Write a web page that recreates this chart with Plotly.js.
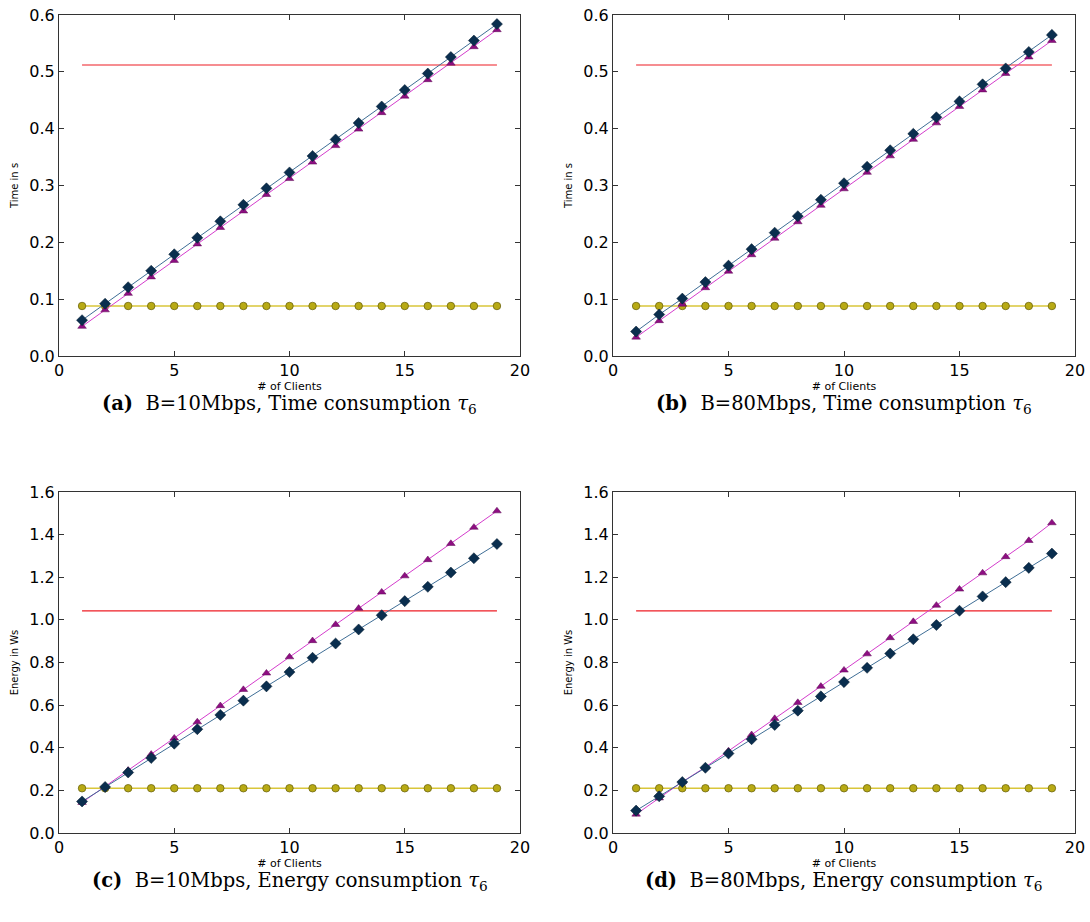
<!DOCTYPE html>
<html>
<head>
<meta charset="utf-8">
<script src="https://cdn.plot.ly/plotly-3.0.1.min.js"></script>
<style>html,body{margin:0;padding:0;background:#fff;}#chart{width:1090px;height:922px;}</style>
</head>
<body>
<div id="chart"></div>
<script>
// ---- data ----
const clients = [1,2,3,4,5,6,7,8,9,10,11,12,13,14,15,16,17,18,19];

// (a) B=10Mbps, time
const timeB10Blue   = [0.063,0.092,0.121,0.150,0.179,0.208,0.237,0.266,0.295,0.323,0.352,0.381,0.410,0.439,0.468,0.497,0.526,0.555,0.584];
const timeB10Purple = [0.052,0.081,0.110,0.139,0.168,0.197,0.226,0.255,0.284,0.312,0.341,0.370,0.399,0.428,0.457,0.486,0.515,0.544,0.574];
const timeB10Yellow = 0.088;
const timeB10Red    = 0.512;

// (b) B=80Mbps, time
const timeB80Blue   = [0.043,0.073,0.101,0.130,0.159,0.188,0.217,0.246,0.275,0.304,0.333,0.362,0.391,0.420,0.448,0.478,0.506,0.535,0.565];
const timeB80Purple = [0.033,0.062,0.091,0.120,0.149,0.178,0.207,0.236,0.265,0.294,0.323,0.352,0.381,0.410,0.439,0.468,0.497,0.526,0.555];
const timeB80Yellow = 0.088;
const timeB80Red    = 0.512;

// (c) B=10Mbps, energy
const energyB10Blue   = [0.148,0.216,0.284,0.352,0.419,0.487,0.554,0.621,0.688,0.755,0.822,0.889,0.955,1.022,1.088,1.155,1.222,1.289,1.356];
const energyB10Purple = [0.143,0.218,0.294,0.369,0.445,0.521,0.597,0.673,0.750,0.826,0.902,0.978,1.054,1.130,1.206,1.282,1.358,1.434,1.511];
const energyB10Yellow = 0.210;
const energyB10Red    = 1.042;

// (d) B=80Mbps, energy
const energyB80Blue   = [0.105,0.172,0.239,0.306,0.373,0.440,0.507,0.574,0.641,0.708,0.775,0.842,0.909,0.976,1.043,1.110,1.177,1.244,1.311];
const energyB80Purple = [0.088,0.164,0.240,0.309,0.385,0.461,0.537,0.612,0.688,0.764,0.840,0.916,0.992,1.068,1.144,1.220,1.296,1.372,1.455];
const energyB80Yellow = 0.210;
const energyB80Red    = 1.042;

const captions = [
  '<b>(a)</b>  B=10Mbps, Time consumption <i>τ</i><sub>6</sub>',
  '<b>(b)</b>  B=80Mbps, Time consumption <i>τ</i><sub>6</sub>',
  '<b>(c)</b>  B=10Mbps, Energy consumption <i>τ</i><sub>6</sub>',
  '<b>(d)</b>  B=80Mbps, Energy consumption <i>τ</i><sub>6</sub>'
];
const yTitles = ['Time in s','Time in s','Energy in Ws','Energy in Ws'];
const xTitle = '# of Clients';

// ---- build ----
const panels = [
  {blue: timeB10Blue, purple: timeB10Purple, yellow: timeB10Yellow, red: timeB10Red},
  {blue: timeB80Blue, purple: timeB80Purple, yellow: timeB80Yellow, red: timeB80Red},
  {blue: energyB10Blue, purple: energyB10Purple, yellow: energyB10Yellow, red: energyB10Red},
  {blue: energyB80Blue, purple: energyB80Purple, yellow: energyB80Yellow, red: energyB80Red}
];

const W = 1090, H = 922;
const xDom = [[59/W, 520/W],[613/W, 1075/W]];
const yDom = [[1-356/H, 1-15/H],[1-833/H, 1-492/H]];
const yRanges = [[0,0.6],[0,0.6],[0,1.6],[0,1.6]];
const yDtick = [0.1,0.1,0.2,0.2];

const traces = [];
const layout = {
  width: W, height: H,
  margin: {l:0,r:0,t:0,b:0},
  paper_bgcolor: '#fff', plot_bgcolor: '#fff',
  showlegend: false,
  font: {family: 'DejaVu Sans', color: '#000'},
  annotations: []
};

panels.forEach((p, i) => {
  const n = i + 1;
  const xa = 'x' + (n === 1 ? '' : n);
  const ya = 'y' + (n === 1 ? '' : n);
  traces.push({
    x: clients, y: clients.map(() => p.red), xaxis: xa, yaxis: ya,
    mode: 'lines', line: {color: '#ee1c24', width: 1.2}, hoverinfo: 'skip'
  });
  traces.push({
    x: clients, y: clients.map(() => p.yellow), xaxis: xa, yaxis: ya,
    mode: 'lines+markers', line: {color: '#d9c63a', width: 1.3},
    marker: {symbol: 'circle', size: 7.5, color: '#b8aa14', line: {color: '#6d6610', width: 0.8}}
  });
  traces.push({
    x: clients, y: p.purple, xaxis: xa, yaxis: ya,
    mode: 'lines+markers', line: {color: '#d43ccc', width: 1},
    marker: {symbol: 'triangle-up', size: 7.5, color: '#8e0e82', line: {color: '#5a0a52', width: 0.5}}
  });
  traces.push({
    x: clients, y: p.blue, xaxis: xa, yaxis: ya,
    mode: 'lines+markers', line: {color: '#3f6e96', width: 1},
    marker: {symbol: 'diamond', size: 8.5, color: '#0a2e4e', line: {color: '#041a2e', width: 0.5}}
  });

  const col = i % 2, row = Math.floor(i / 2);
  const axCommon = {
    showgrid: false, zeroline: false, showline: true, linecolor: '#333', linewidth: 1,
    mirror: 'ticks', ticks: 'inside', ticklen: 5, tickwidth: 1, tickcolor: '#333',
    tickfont: {family: 'DejaVu Sans', size: 16, color: '#000'}
  };
  layout['xaxis' + (n === 1 ? '' : n)] = Object.assign({}, axCommon, {
    domain: xDom[col], anchor: ya, range: [0, 20], dtick: 5, tick0: 0,
    title: {text: xTitle, font: {family: 'DejaVu Sans', size: 11, color: '#000'}, standoff: 2}
  });
  layout['yaxis' + (n === 1 ? '' : n)] = Object.assign({}, axCommon, {
    domain: yDom[row], anchor: xa, range: yRanges[i], dtick: yDtick[i], tick0: 0,
    tickformat: '.1f',
    title: {text: yTitles[i], font: {family: 'DejaVu Sans', size: 10, color: '#000'}, standoff: 8}
  });

  const cx = (xDom[col][0] + xDom[col][1]) / 2;
  layout.annotations.push({
    text: captions[i], xref: 'paper', yref: 'paper',
    x: cx, y: 1 - (row === 0 ? 405 : 881) / H, xanchor: 'center', yanchor: 'middle',
    showarrow: false, font: {family: 'DejaVu Serif', size: 19.5, color: '#000'}
  });
});

Plotly.newPlot('chart', traces, layout, {staticPlot: true});
</script>
</body>
</html>
